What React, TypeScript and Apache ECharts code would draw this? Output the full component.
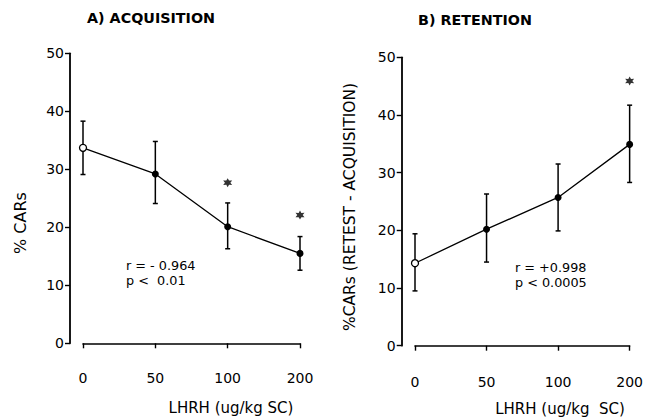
import React, { useEffect, useRef } from "react";
import * as echarts from "echarts";

const doses = ["0", "50", "100", "200"];

const acqMean = [33.7, 29.2, 20.1, 15.5];
const acqLow = [29.1, 24.1, 16.3, 12.6];
const acqHigh = [38.3, 34.8, 24.2, 18.4];
const acqStar = [null, null, 27.7, 22.1];

const retMean = [14.3, 20.2, 25.7, 34.9];
const retLow = [9.5, 14.5, 19.9, 28.3];
const retHigh = [19.4, 26.3, 31.5, 41.7];
const retStar = [null, null, null, 45.9];

const yTicks = { min: 0, max: 50, interval: 10 };

const FONT = "DejaVu Sans";
const STAR =
  "path://M50 0 L63 27.5 L93.3 25 L76 50 L93.3 75 L63 72.5 L50 100 L37 72.5 L6.7 75 L24 50 L6.7 25 L37 27.5 Z";

function errData(lo: number[], hi: number[]) {
  return lo.map((l, i) => [i, l, hi[i]]);
}

function meanData(m: number[]) {
  return m.map((v, i) =>
    i === 0
      ? { value: v, itemStyle: { color: "#fff", borderColor: "#000", borderWidth: 1.3 } }
      : { value: v }
  );
}

const renderErr = (params: any, api: any) => {
  const x = api.value(0);
  const lo = api.coord([x, api.value(1)]);
  const hi = api.coord([x, api.value(2)]);
  const w = 2.5;
  const st = { stroke: "#000", lineWidth: 1.5 };
  return {
    type: "group",
    children: [
      { type: "line", shape: { x1: lo[0], y1: lo[1], x2: hi[0], y2: hi[1] }, style: st },
      { type: "line", shape: { x1: lo[0] - w, y1: lo[1], x2: lo[0] + w, y2: lo[1] }, style: st },
      { type: "line", shape: { x1: hi[0] - w, y1: hi[1], x2: hi[0] + w, y2: hi[1] }, style: st },
    ],
  };
};

function xAxis(gridIndex: number, offset: number) {
  return {
    type: "category",
    gridIndex,
    data: doses,
    boundaryGap: false,
    offset,
    axisLine: { show: true, lineStyle: { color: "#000", width: 1.6 } },
    axisTick: { show: true, length: 5, lineStyle: { color: "#000", width: 1.4 } },
    axisLabel: { color: "#000", fontSize: 14, fontFamily: FONT, margin: 13 },
    splitLine: { show: false },
  };
}

function yAxis(gridIndex: number, offset: number) {
  return {
    type: "value",
    gridIndex,
    min: yTicks.min,
    max: yTicks.max,
    interval: yTicks.interval,
    offset,
    axisLine: { show: true, lineStyle: { color: "#000", width: 1.8 } },
    axisTick: { show: true, length: 5, lineStyle: { color: "#000", width: 1.4 } },
    axisLabel: { color: "#000", fontSize: 14, fontFamily: FONT, margin: 6 },
    splitLine: { show: false },
  };
}

function seriesFor(idx: number, mean: number[], lo: number[], hi: number[], star: (number | null)[]) {
  return [
    {
      type: "custom",
      xAxisIndex: idx,
      yAxisIndex: idx,
      data: errData(lo, hi),
      renderItem: renderErr,
      z: 2,
    },
    {
      type: "line",
      xAxisIndex: idx,
      yAxisIndex: idx,
      data: meanData(mean),
      symbol: "circle",
      symbolSize: 7,
      showSymbol: true,
      itemStyle: { color: "#000" },
      lineStyle: { color: "#000", width: 1.3 },
      z: 3,
    },
    {
      type: "scatter",
      xAxisIndex: idx,
      yAxisIndex: idx,
      data: star,
      symbol: STAR,
      symbolSize: 9,
      itemStyle: { color: "#000" },
      z: 3,
    },
  ];
}

const txt = (x: number, y: number, text: string, size: number, extra: any = {}) => ({
  type: "text",
  x,
  y,
  style: {
    text,
    fill: "#000",
    font: `${extra.fontWeight || "normal"} ${size}px "${FONT}"`,
    textAlign: extra.textAlign || "left",
    textVerticalAlign: "middle",
  },
});

export default function App() {
  const ref = useRef<HTMLDivElement>(null);
  useEffect(() => {
    if (!ref.current) return;
    const chart = echarts.init(ref.current, null, { renderer: "svg" });
    chart.setOption({
      animation: false,
      backgroundColor: "#fff",
      grid: [
        { left: 83, top: 53.3, width: 217, height: 290 },
        { left: 415, top: 57.3, width: 216, height: 288.4 },
      ],
      xAxis: [xAxis(0, 15), xAxis(1, 16.6)],
      yAxis: [yAxis(0, 13), yAxis(1, 13.3)],
      series: [
        ...seriesFor(0, acqMean, acqLow, acqHigh, acqStar),
        ...seriesFor(1, retMean, retLow, retHigh, retStar),
      ],
      graphic: [
        txt(87, 18, "A) ACQUISITION", 14.3, { fontWeight: "bold" }),
        txt(418, 20, "B) RETENTION", 14.3, { fontWeight: "bold" }),
        txt(126, 265.5, "r = - 0.964", 12.8),
        txt(126, 280.5, "p <  0.01", 12.8),
        txt(515, 267.5, "r = +0.998", 12.8),
        txt(515, 282.5, "p < 0.0005", 12.8),
        txt(231, 408, "LHRH (ug/kg SC)", 15, { textAlign: "center" }),
        txt(560, 409, "LHRH (ug/kg  SC)", 15, { textAlign: "center" }),
        {
          type: "text",
          x: 20,
          y: 223,
          rotation: Math.PI / 2,
          style: {
            text: "% CARs",
            fill: "#000",
            font: `16px "${FONT}"`,
            textAlign: "center",
            textVerticalAlign: "middle",
          },
        },
        {
          type: "text",
          x: 350,
          y: 207,
          rotation: Math.PI / 2,
          style: {
            text: "%CARs (RETEST - ACQUISITION)",
            fill: "#000",
            font: `15.5px "${FONT}"`,
            textAlign: "center",
            textVerticalAlign: "middle",
          },
        },
      ],
    });
    return () => chart.dispose();
  }, []);
  return (
    <div
      ref={ref}
      style={{ position: "absolute", left: 0, top: 0, width: 646, height: 419 }}
    />
  );
}
